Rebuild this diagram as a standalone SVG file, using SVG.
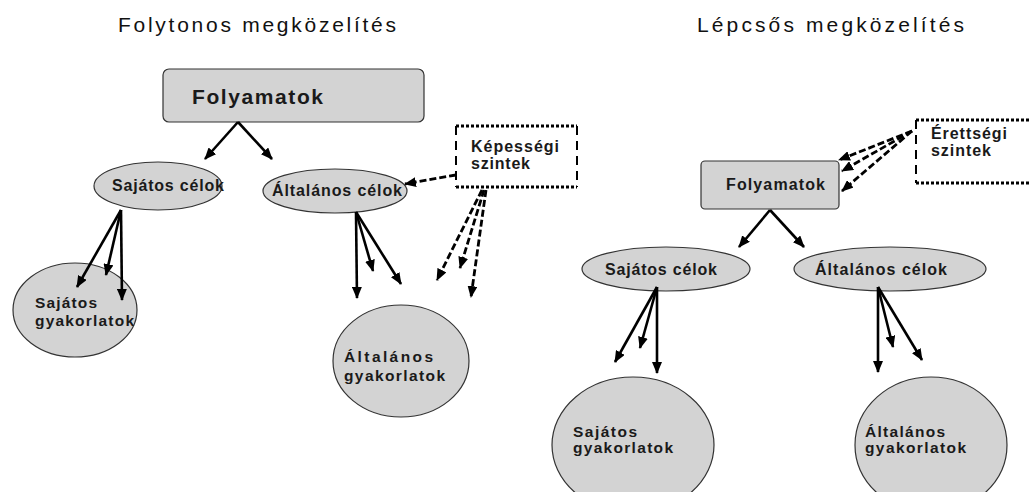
<svg xmlns="http://www.w3.org/2000/svg" width="1029" height="492" viewBox="0 0 1029 492">
<style>
.title{font-family:"Liberation Sans",Arial,sans-serif;font-size:21px;fill:#111}
.lbl{font-family:"Liberation Sans",Arial,sans-serif;font-weight:bold;fill:#1a1a1a}
.shape{fill:#d3d3d3;stroke:#333;stroke-width:1.2}
.arr{stroke:#000;stroke-width:2.6;fill:none;marker-end:url(#ah)}
.darr{stroke:#000;stroke-width:2.8;fill:none;stroke-dasharray:7 3;marker-end:url(#ah)}
.dh{stroke:#000;stroke-width:3;fill:none;stroke-dasharray:3 2}
.dv{stroke:#000;stroke-width:2;fill:none;stroke-dasharray:9 6}
</style>
<defs>
<marker id="ah" viewBox="0 0 12 10" refX="11" refY="5" markerWidth="12" markerHeight="10" markerUnits="userSpaceOnUse" orient="auto">
<path d="M0,0 L12,5 L0,10 z" fill="#000"/>
</marker>
</defs>
<rect width="1029" height="492" fill="#fff"/>
<text class="title" x="118" y="32" textLength="278" lengthAdjust="spacing">Folytonos megközelítés</text>
<text class="title" x="697" y="32" textLength="267" lengthAdjust="spacing">Lépcsős megközelítés</text>

<g id="folyamatok-left">
<rect class="shape" x="163" y="69" width="261" height="53" rx="6"/>
<text class="lbl" x="192" y="104" font-size="21" textLength="131" lengthAdjust="spacing">Folyamatok</text>
</g>
<g id="sajatos-celok-left">
<ellipse class="shape" cx="158" cy="186" rx="64" ry="24"/>
<text class="lbl" x="112" y="191" font-size="16" textLength="112" lengthAdjust="spacing">Sajátos célok</text>
</g>
<g id="altalanos-celok-left">
<ellipse class="shape" cx="335" cy="191" rx="72" ry="22"/>
<text class="lbl" x="272" y="196" font-size="16" textLength="130" lengthAdjust="spacing">Általános célok</text>
</g>
<g id="kepessegi-szintek">
<path class="dh" d="M456,126 H577 M456,187 H577"/>
<path class="dv" d="M456,126 V187 M577,126 V187"/>
<text class="lbl" x="471" y="152" font-size="16" textLength="88" lengthAdjust="spacing">Képességi</text>
<text class="lbl" x="471" y="169" font-size="16" textLength="59" lengthAdjust="spacing">szintek</text>
</g>
<g id="sajatos-gyakorlatok-left">
<ellipse class="shape" cx="75" cy="310" rx="62" ry="47"/>
<text class="lbl" x="35" y="308" font-size="15.5" textLength="62" lengthAdjust="spacing">Sajátos</text>
<text class="lbl" x="35" y="326" font-size="15.5" textLength="99" lengthAdjust="spacing">gyakorlatok</text>
</g>
<g id="altalanos-gyakorlatok-left">
<ellipse class="shape" cx="401" cy="361" rx="68" ry="56"/>
<text class="lbl" x="344" y="362" font-size="15.5" textLength="89" lengthAdjust="spacing">Általános</text>
<text class="lbl" x="344" y="381" font-size="15.5" textLength="101" lengthAdjust="spacing">gyakorlatok</text>
</g>

<g id="erettsegi-szintek">
<path class="dh" d="M916,120 H1029 M916,183 H1029"/>
<path class="dv" d="M916,120 V183"/>
<text class="lbl" x="931" y="139" font-size="16" textLength="76" lengthAdjust="spacing">Érettségi</text>
<text class="lbl" x="931" y="156" font-size="16" textLength="60" lengthAdjust="spacing">szintek</text>
</g>
<g id="folyamatok-right">
<rect class="shape" x="701" y="161" width="138" height="48" rx="4"/>
<text class="lbl" x="726" y="190" font-size="16" textLength="99" lengthAdjust="spacing">Folyamatok</text>
</g>
<g id="sajatos-celok-right">
<ellipse class="shape" cx="666" cy="269" rx="84" ry="22"/>
<text class="lbl" x="605" y="275" font-size="16" textLength="112" lengthAdjust="spacing">Sajátos célok</text>
</g>
<g id="altalanos-celok-right">
<ellipse class="shape" cx="890" cy="269" rx="96" ry="22"/>
<text class="lbl" x="815" y="275" font-size="16" textLength="132" lengthAdjust="spacing">Általános célok</text>
</g>
<g id="sajatos-gyakorlatok-right">
<ellipse class="shape" cx="633" cy="445" rx="81" ry="68"/>
<text class="lbl" x="573" y="437" font-size="15.5" textLength="64" lengthAdjust="spacing">Sajátos</text>
<text class="lbl" x="573" y="453" font-size="15.5" textLength="100" lengthAdjust="spacing">gyakorlatok</text>
</g>
<g id="altalanos-gyakorlatok-right">
<ellipse class="shape" cx="931" cy="445" rx="76" ry="68"/>
<text class="lbl" x="865" y="437" font-size="15.5" textLength="80" lengthAdjust="spacing">Általános</text>
<text class="lbl" x="865" y="453" font-size="15.5" textLength="101" lengthAdjust="spacing">gyakorlatok</text>
</g>

<g id="connectors">
<path class="arr" d="M238,122 L205,159"/>
<path class="arr" d="M238,122 L272,159"/>
<path class="darr" d="M456,175 L405,184"/>
<path class="darr" d="M482,190 L437,280"/>
<path class="darr" d="M484,190 L460,268"/>
<path class="darr" d="M486,190 L471,297"/>
<path class="arr" d="M121,210 L77,287"/>
<path class="arr" d="M121,210 L106,275"/>
<path class="arr" d="M121,210 L122,300"/>
<path class="arr" d="M356,212 L357,298"/>
<path class="arr" d="M356,212 L373,271"/>
<path class="arr" d="M356,212 L401,284"/>
<path class="darr" d="M912,131 L839,160"/>
<path class="darr" d="M912,131 L842,171"/>
<path class="darr" d="M912,131 L842,191"/>
<path class="arr" d="M770,210 L739,247"/>
<path class="arr" d="M770,210 L804,247"/>
<path class="arr" d="M657,287 L615,362"/>
<path class="arr" d="M657,287 L640,348"/>
<path class="arr" d="M657,287 L657,373"/>
<path class="arr" d="M878,287 L878,372"/>
<path class="arr" d="M878,287 L893,347"/>
<path class="arr" d="M878,287 L922,360"/>
</g>
</svg>
